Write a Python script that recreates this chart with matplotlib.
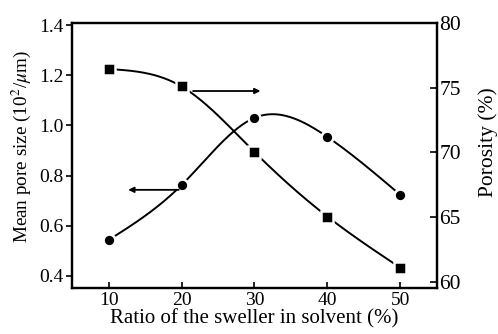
import numpy as np
import matplotlib.pyplot as plt

plt.rcParams['font.family'] = ['Liberation Serif', 'DejaVu Serif']
plt.rcParams['mathtext.fontset'] = 'stix'

ratio = [10, 20, 30, 40, 50]
pore_size = [0.543, 0.762, 1.03, 0.954, 0.723]
porosity = [76.45, 75.1, 70.04, 65.05, 61.1]


def natural_spline(x, y, n=200):
    # plain natural cubic spline, just for the smooth line through the points
    x = np.asarray(x, float)
    y = np.asarray(y, float)
    h = np.diff(x)
    m = len(x)
    A = np.zeros((m, m))
    b = np.zeros(m)
    A[0, 0] = A[-1, -1] = 1
    for i in range(1, m - 1):
        A[i, i - 1] = h[i - 1]
        A[i, i] = 2 * (h[i - 1] + h[i])
        A[i, i + 1] = h[i]
        b[i] = 6 * ((y[i + 1] - y[i]) / h[i] - (y[i] - y[i - 1]) / h[i - 1])
    M = np.linalg.solve(A, b)
    xs = np.linspace(x[0], x[-1], n)
    idx = np.clip(np.searchsorted(x, xs) - 1, 0, m - 2)
    x0, x1 = x[idx], x[idx + 1]
    hh = x1 - x0
    t0, t1 = x1 - xs, xs - x0
    ys = (M[idx] * t0**3 + M[idx + 1] * t1**3) / (6 * hh) \
        + (y[idx] / hh - M[idx] * hh / 6) * t0 + (y[idx + 1] / hh - M[idx + 1] * hh / 6) * t1
    return xs, ys


fig, ax = plt.subplots(figsize=(4.98, 3.34), dpi=100)
fig.subplots_adjust(left=0.145, right=0.877, bottom=0.138, top=0.931)
ax2 = ax.twinx()

xs, ys = natural_spline(ratio, pore_size)
ax.plot(xs, ys, color="black", lw=1.4, zorder=2)
ax.plot(ratio, pore_size, "o", color="black", ms=8.5, mec="white", mew=1.8, zorder=3)

xs, ys = natural_spline(ratio, porosity)
ax2.plot(xs, ys, color="black", lw=1.4, zorder=2)
ax2.plot(ratio, porosity, "s", color="black", ms=8.5, mec="white", mew=1.8, zorder=3)

# arrows pointing to the matching axis
ax.annotate("", xy=(12.3, 0.743), xytext=(20, 0.743),
            arrowprops=dict(arrowstyle="-|>", color="black", lw=1.3, mutation_scale=8))
ax2.annotate("", xy=(31.2, 74.75), xytext=(21.2, 74.75),
             arrowprops=dict(arrowstyle="-|>", color="black", lw=1.3, mutation_scale=8))

ax.set_xlim(5, 55)
ax.set_ylim(0.352, 1.408)
ax2.set_ylim(59.54, 80)
ax.set_xticks(ratio)
ax.set_yticks([0.4, 0.6, 0.8, 1.0, 1.2, 1.4])
ax.set_yticklabels(["0.4", "0.6", "0.8", "1.0", "1.2", "1.4"])
ax2.set_yticks([60, 65, 70, 75, 80])

ax.tick_params(axis="x", direction="in", length=4, width=1.2, labelsize=14, pad=3)
ax.tick_params(axis="y", direction="out", length=4, width=1.2, labelsize=14, pad=2)
ax2.tick_params(axis="y", direction="in", length=5, width=1.2, labelsize=15.5, pad=2)
for a in (ax, ax2):
    for s in a.spines.values():
        s.set_linewidth(1.6)

ax.set_xlabel("Ratio of the sweller in solvent (%)", fontsize=15, labelpad=0)
ax.set_ylabel(r"Mean pore size (10$^2$/$\mu$m)", fontsize=13.8)
ax2.set_ylabel("Porosity (%)", fontsize=15.5)
ax.yaxis.set_label_coords(-0.107, 0.532)
ax2.yaxis.set_label_coords(1.115, 0.551)

fig.savefig("out.png", dpi=100)
